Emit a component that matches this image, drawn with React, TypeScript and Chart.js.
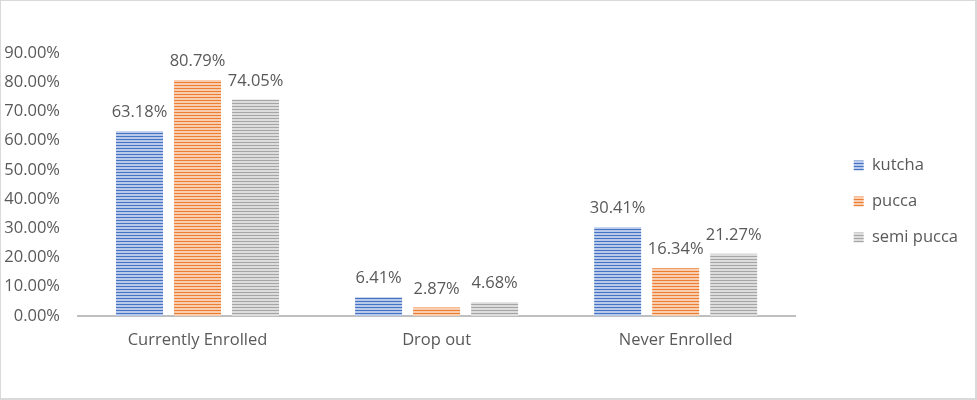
import { useEffect, useRef } from "react";
import { Chart, registerables, layouts } from "chart.js";

Chart.register(...registerables);

const categories = ["Currently Enrolled", "Drop out", "Never Enrolled"];
const kutcha = [63.18, 6.41, 30.41];
const pucca = [80.79, 2.87, 16.34];
const semiPucca = [74.05, 4.68, 21.27];
const seriesNames = ["kutcha", "pucca", "semi pucca"];
const seriesColors = ["#4472c4", "#ed7d31", "#a5a5a5"];

const FONT = "'Open Sans', sans-serif";
const FONT_SIZE = 16.5;
const TEXT = "#595959";

// horizontal stripes: thin dark line, wider pale line
function stripes(color: string) {
  const c = document.createElement("canvas");
  c.width = 3;
  c.height = 3;
  const g = c.getContext("2d")!;
  g.fillStyle = color;
  g.fillRect(0, 0, 3, 3);
  g.fillStyle = "rgba(255,255,255,0.62)";
  g.fillRect(0, 1, 3, 2);
  return g.createPattern(c, "repeat")!;
}

const dataLabels = {
  id: "dataLabels",
  afterDatasetsDraw(chart: Chart) {
    const ctx = chart.ctx;
    ctx.save();
    ctx.font = `${FONT_SIZE}px ${FONT}`;
    ctx.fillStyle = TEXT;
    ctx.textAlign = "center";
    ctx.textBaseline = "alphabetic";
    chart.data.datasets.forEach((ds, i) => {
      chart.getDatasetMeta(i).data.forEach((bar: any, j) => {
        const v = ds.data[j] as number;
        ctx.fillText(v.toFixed(2) + "%", bar.x, bar.y - 14);
      });
    });
    ctx.restore();
  },
};

// empty box between plot area and legend
const legendGap = {
  id: "legendGap",
  beforeInit(chart: Chart) {
    layouts.addBox(chart, {
      position: "right",
      weight: 500,
      fullSize: true,
      options: {},
      width: 0,
      height: 0,
      left: 0,
      top: 0,
      right: 0,
      bottom: 0,
      isHorizontal: () => false,
      update(this: any, _w: number, h: number) {
        this.width = 39;
        this.height = h;
      },
      draw() {},
    } as any);
  },
};

export default function App() {
  const chartRef = useRef<HTMLCanvasElement | null>(null);

  useEffect(() => {
    document.body.style.margin = "0";
    if (!chartRef.current) return;
    const ctx = chartRef.current.getContext("2d");
    if (!ctx) return;

    const values = [kutcha, pucca, semiPucca];
    const chart = new Chart(ctx, {
      type: "bar",
      data: {
        labels: categories,
        datasets: values.map((d, i) => ({
          label: seriesNames[i],
          data: d,
          backgroundColor: stripes(seriesColors[i]),
          borderColor: seriesColors[i],
          borderWidth: 0,
          categoryPercentage: 0.728,
          barPercentage: 0.81,
        })),
      },
      options: {
        responsive: true,
        maintainAspectRatio: false,
        animation: false,
        layout: { padding: { top: 52, bottom: 48, left: 3, right: 7 } },
        plugins: {
          tooltip: { enabled: false },
          legend: {
            position: "right",
            labels: {
              boxWidth: 10,
              boxHeight: 10,
              padding: 19.5,
              color: TEXT,
              font: { size: FONT_SIZE, family: FONT },
              generateLabels: (c: Chart) =>
                c.data.datasets.map((ds, i) => ({
                  text: ds.label as string,
                  fillStyle: ds.backgroundColor as any,
                  strokeStyle: seriesColors[i],
                  lineWidth: 0,
                  fontColor: TEXT,
                  datasetIndex: i,
                })),
            },
          },
        },
        scales: {
          x: {
            grid: { display: false, drawTicks: false },
            border: { display: true, color: "#bfbfbf", width: 2 },
            ticks: { color: TEXT, font: { size: FONT_SIZE, family: FONT }, padding: 14 },
            afterFit: (s: any) => {
              s.height = 34;
              s.paddingLeft = 0;
              s.paddingRight = 0;
            },
          },
          y: {
            min: 0,
            max: 90,
            grid: { display: false, drawTicks: false },
            border: { display: false },
            ticks: {
              stepSize: 10,
              color: TEXT,
              padding: 18,
              font: { size: FONT_SIZE, family: FONT },
              callback: (v) => Number(v).toFixed(2) + "%",
            },
            afterFit: (s: any) => {
              s.width = 74;
              s.paddingTop = 0;
              s.paddingBottom = 0;
            },
          },
        },
      },
      plugins: [legendGap, dataLabels],
    });

    return () => {
      chart.destroy();
    };
  }, []);

  return (
    <div
      style={{
        position: "relative",
        width: 977,
        height: 400,
        boxSizing: "border-box",
        borderStyle: "solid",
        borderColor: "#d9d9d9",
        borderWidth: "1px 2px 2px 1px",
        background: "#fff",
      }}
    >
      <canvas ref={chartRef}></canvas>
    </div>
  );
}
